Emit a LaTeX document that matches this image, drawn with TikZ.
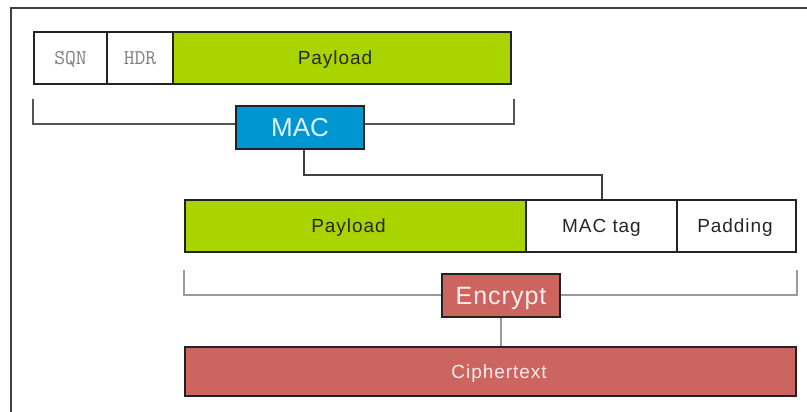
\documentclass[tikz,border=0pt]{standalone}
\usepackage{fontspec}
\setmainfont{Liberation Sans}
\newfontfamily\spaced[LetterSpace=5]{Liberation Sans}
\usetikzlibrary{backgrounds}
\definecolor{pgreen}{HTML}{AAD400}
\definecolor{mblue}{HTML}{0096D2}
\definecolor{ered}{HTML}{CC6560}
\definecolor{edge}{HTML}{222222}
\definecolor{brk}{HTML}{555555}
\definecolor{brklight}{HTML}{9A9A9A}
\tikzset{
  cell/.style={draw=edge, line width=2pt, inner sep=0pt, minimum height=52pt, text height=13.6pt, text depth=0pt, font=\spaced\fontsize{19}{20}\selectfont, text=black!85},
  hdrcell/.style={cell, fill=white, font=\ttfamily\fontsize{21}{21}\selectfont, text=black!50, text height=12.5pt},
  opbox/.style={draw=edge, line width=2pt, inner sep=0pt, minimum height=43pt, text depth=0pt, text=white},
  bracketline/.style={line width=2pt},
}
\begin{document}
\begin{tikzpicture}[x=1pt,y=-1pt]
\useasboundingbox (0,0) rectangle (807,412);
\draw[line width=2pt, black!75] (11,412) -- (11,8) -- (807,8);
% row 1
\node[hdrcell, minimum width=73pt] (sqn) at (70.5,58) {SQN};
\node[hdrcell, minimum width=66pt] (hdr) at (140,58) {HDR};
\node[cell, fill=pgreen, minimum width=338pt] (pay1) at (342,58) {\hspace*{-14pt}Payload};
% MAC
\node[opbox, fill=mblue, minimum width=128pt, font=\fontsize{26}{28}\selectfont, text height=18.6pt, text=white!88!mblue] (mac) at (300,127.5) {MAC};
% row 2
\node[cell, fill=pgreen, minimum width=341pt] (pay2) at (355.5,226) {\hspace*{-14pt}Payload};
\node[cell, fill=white, minimum width=151pt] (tag) at (601.5,226) {MAC tag};
\node[cell, fill=white, minimum width=119pt] (pad) at (736.5,226) {\hspace*{-3pt}Padding};
% Encrypt
\node[opbox, fill=ered, minimum width=118pt, font=\addfontfeature{LetterSpace=4}\fontsize{25}{27}\selectfont, text height=17.9pt, text=white!90!ered] (enc) at (501,295.5) {Encrypt};
% Ciphertext
\node[cell, fill=ered, minimum width=611pt, minimum height=49pt, text=white!88!ered] (ciph) at (490.5,371.5) {\hspace*{17pt}Ciphertext};
% brackets and connectors
\coordinate (b1l) at ([yshift=-14pt]sqn.south west);
\coordinate (b1r) at ([xshift=2pt,yshift=-14pt]pay1.south east);
\coordinate (b2l) at ([yshift=-17pt]pay2.south west);
\coordinate (b2r) at ([yshift=-17pt]pad.south east);
\begin{scope}[on background layer]
\fill[white] (0,0) rectangle (807,412);
\draw[bracketline, brk] (b1l) -- ++(0,25) -| (b1r);
\draw[bracketline, brklight] (b2l) -- ++(0,25) -| (b2r);
\draw[line width=2pt, black!75] ([xshift=4pt]mac.south) -- ++(0,25) -| (tag.north);
\draw[line width=2pt, brklight] (enc.south) -- (enc.south |- ciph.north);
\end{scope}
\end{tikzpicture}
\end{document}
